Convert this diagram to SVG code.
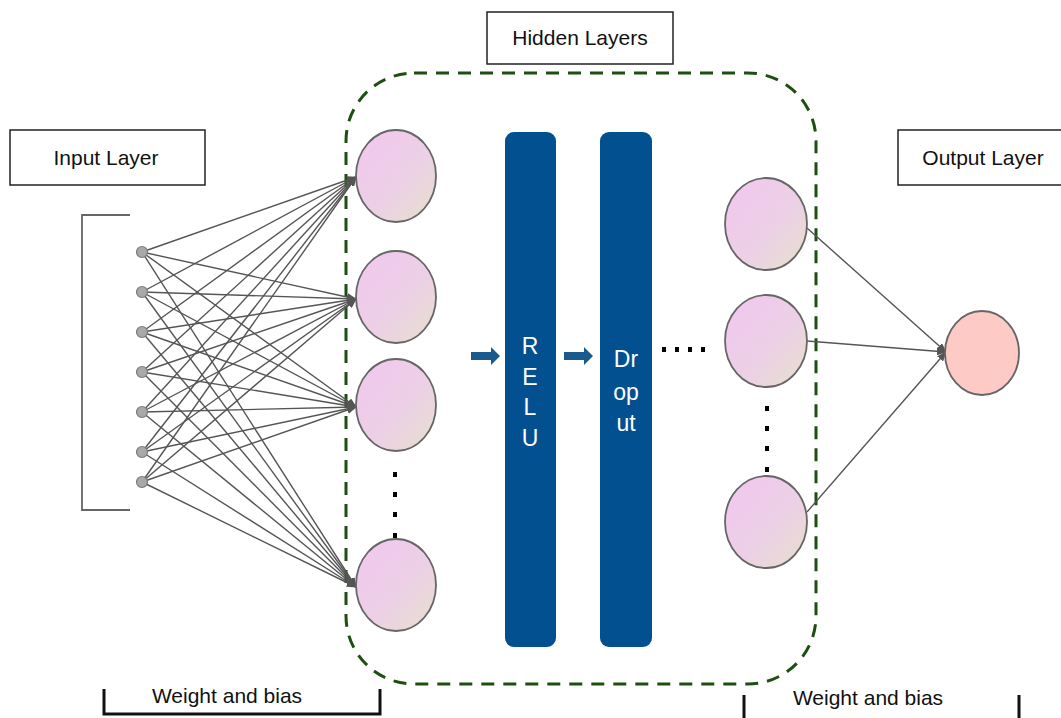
<svg xmlns="http://www.w3.org/2000/svg" width="1061" height="718" viewBox="0 0 1061 718">
  <defs>
    <linearGradient id="nodeFill" x1="0" y1="0" x2="1" y2="1">
      <stop offset="0" stop-color="#f2c6f0"/>
      <stop offset="0.55" stop-color="#ecd0e6"/>
      <stop offset="1" stop-color="#e6e0cc"/>
    </linearGradient>
    <marker id="tip" viewBox="0 0 10 10" refX="9" refY="5" markerWidth="10" markerHeight="8" markerUnits="userSpaceOnUse" orient="auto" preserveAspectRatio="none">
      <path d="M0,0 L10,5 L0,10 z" fill="#555"/>
    </marker>
    <path id="flowArrow" d="M0,-4 L20,-4 L20,-9 L29,0 L20,9 L20,4 L0,4 z" fill="#1b5a8c"/>
  </defs>
  <style>
    .label { font-family: "Liberation Sans", Arial, sans-serif; font-size: 21px; fill: #111; text-anchor: middle; }
    .box { fill: #fff; stroke: #222; stroke-width: 1.5; }
    .edge { stroke: #555; stroke-width: 1.4; fill: none; }
    .hnode { fill: url(#nodeFill); stroke: #666; stroke-width: 1.8; }
    .inode { fill: #a9a9a9; stroke: #7a7a7a; stroke-width: 1.2; }
    .bar { fill: #02508f; }
    .bartext { font-family: "Liberation Sans", Arial, sans-serif; font-size: 23px; fill: #fff; text-anchor: middle; }
    .dot { fill: #000; }
    .bracket { fill: none; stroke: #111; stroke-width: 3; }
    .thin-bracket { fill: none; stroke: #666; stroke-width: 1.8; }
  </style>

  <rect width="1061" height="718" fill="#fff"/>

  <!-- hidden layer frame -->
  <rect id="hidden-frame" x="346" y="73" width="470" height="611" rx="68" ry="68" fill="none" stroke="#1e4f12" stroke-width="3" stroke-dasharray="13 9"/>

  <!-- title boxes -->
  <g id="input-label">
    <rect class="box" x="10" y="130" width="195" height="55"/>
    <text class="label" x="106" y="165">Input Layer</text>
  </g>
  <g id="hidden-label">
    <rect class="box" x="487" y="12" width="186" height="52"/>
    <text class="label" x="580" y="45">Hidden Layers</text>
  </g>
  <g id="output-label">
    <rect class="box" x="898" y="130" width="170" height="55"/>
    <text class="label" x="983" y="165">Output Layer</text>
  </g>

  <!-- input bracket -->
  <path class="thin-bracket" d="M130,215 L82,215 L82,510 L130,510"/>

  <!-- connectors -->
  <g id="connectors">
    <!-- inputs to first hidden column -->
    <g class="edge" marker-end="url(#tip)">
      <line x1="142" y1="252" x2="356" y2="177"/>
      <line x1="142" y1="292" x2="356" y2="177"/>
      <line x1="142" y1="332" x2="356" y2="177"/>
      <line x1="142" y1="372" x2="356" y2="177"/>
      <line x1="142" y1="412" x2="356" y2="177"/>
      <line x1="142" y1="452" x2="356" y2="177"/>
      <line x1="142" y1="482" x2="356" y2="177"/>

      <line x1="142" y1="252" x2="356" y2="299"/>
      <line x1="142" y1="292" x2="356" y2="299"/>
      <line x1="142" y1="332" x2="356" y2="299"/>
      <line x1="142" y1="372" x2="356" y2="299"/>
      <line x1="142" y1="412" x2="356" y2="299"/>
      <line x1="142" y1="452" x2="356" y2="299"/>
      <line x1="142" y1="482" x2="356" y2="299"/>

      <line x1="142" y1="252" x2="356" y2="407"/>
      <line x1="142" y1="292" x2="356" y2="407"/>
      <line x1="142" y1="332" x2="356" y2="407"/>
      <line x1="142" y1="372" x2="356" y2="407"/>
      <line x1="142" y1="412" x2="356" y2="407"/>
      <line x1="142" y1="452" x2="356" y2="407"/>
      <line x1="142" y1="482" x2="356" y2="407"/>

      <line x1="142" y1="252" x2="356" y2="587"/>
      <line x1="142" y1="292" x2="356" y2="587"/>
      <line x1="142" y1="332" x2="356" y2="587"/>
      <line x1="142" y1="372" x2="356" y2="587"/>
      <line x1="142" y1="412" x2="356" y2="587"/>
      <line x1="142" y1="452" x2="356" y2="587"/>
      <line x1="142" y1="482" x2="356" y2="587"/>
    </g>
    <!-- last hidden column to output -->
    <g class="edge" marker-end="url(#tip)">
      <line x1="807" y1="228" x2="946" y2="352"/>
      <line x1="807" y1="341" x2="946" y2="352"/>
      <line x1="807" y1="512" x2="946" y2="352"/>
    </g>
    <!-- flow arrows between stages -->
    <use href="#flowArrow" x="471" y="356"/>
    <use href="#flowArrow" x="564" y="356"/>
  </g>

  <!-- input nodes -->
  <g id="inputs">
    <circle class="inode" cx="142" cy="252" r="5.5"/>
    <circle class="inode" cx="142" cy="292" r="5.5"/>
    <circle class="inode" cx="142" cy="332" r="5.5"/>
    <circle class="inode" cx="142" cy="372" r="5.5"/>
    <circle class="inode" cx="142" cy="412" r="5.5"/>
    <circle class="inode" cx="142" cy="452" r="5.5"/>
    <circle class="inode" cx="142" cy="482" r="5.5"/>
  </g>

  <!-- first hidden column -->
  <g id="h1-a"><ellipse class="hnode" cx="396" cy="176" rx="40" ry="46"/></g>
  <g id="h1-b"><ellipse class="hnode" cx="396" cy="297" rx="40" ry="46"/></g>
  <g id="h1-c"><ellipse class="hnode" cx="396" cy="405" rx="40" ry="46"/></g>
  <g id="h1-d"><ellipse class="hnode" cx="396" cy="585" rx="40" ry="46"/></g>
  <g id="h1-dots">
    <rect class="dot" x="393" y="472" width="4" height="5"/>
    <rect class="dot" x="393" y="492" width="4" height="5"/>
    <rect class="dot" x="393" y="512" width="4" height="5"/>
    <rect class="dot" x="393" y="533" width="4" height="5"/>
  </g>

  <!-- activation and dropout stages -->
  <g id="relu">
    <rect class="bar" x="505" y="132" width="51" height="515" rx="9"/>
    <text class="bartext" x="530" y="354">R</text>
    <text class="bartext" x="530" y="385">E</text>
    <text class="bartext" x="530" y="415">L</text>
    <text class="bartext" x="530" y="446">U</text>
  </g>
  <g id="dropout">
    <rect class="bar" x="600" y="132" width="52" height="515" rx="9"/>
    <text class="bartext" x="626" y="367">Dr</text>
    <text class="bartext" x="626" y="400">op</text>
    <text class="bartext" x="626" y="431">ut</text>
  </g>
  <g id="stage-dots">
    <rect class="dot" x="662" y="347" width="4" height="5"/>
    <rect class="dot" x="675" y="347" width="4" height="5"/>
    <rect class="dot" x="688" y="347" width="4" height="5"/>
    <rect class="dot" x="701" y="347" width="4" height="5"/>
  </g>

  <!-- last hidden column -->
  <g id="h2-a"><ellipse class="hnode" cx="766" cy="224" rx="41" ry="46"/></g>
  <g id="h2-b"><ellipse class="hnode" cx="766" cy="341" rx="41" ry="46"/></g>
  <g id="h2-c"><ellipse class="hnode" cx="766" cy="522" rx="41" ry="46"/></g>
  <g id="h2-dots">
    <rect class="dot" x="765" y="406" width="4" height="5"/>
    <rect class="dot" x="765" y="426" width="4" height="5"/>
    <rect class="dot" x="765" y="446" width="4" height="5"/>
    <rect class="dot" x="765" y="467" width="4" height="5"/>
  </g>

  <!-- output node -->
  <g id="output"><ellipse cx="982" cy="353" rx="37" ry="42" fill="#fdcac6" stroke="#666" stroke-width="1.8"/></g>

  <!-- weight and bias brackets -->
  <g id="wb-left">
    <path class="bracket" d="M104,689 L104,714 L380,714 L380,689"/>
    <text class="label" x="227" y="703">Weight and bias</text>
  </g>
  <g id="wb-right">
    <path class="bracket" d="M744,695 L744,720 M1019,695 L1019,720"/>
    <text class="label" x="868" y="705">Weight and bias</text>
  </g>
</svg>
